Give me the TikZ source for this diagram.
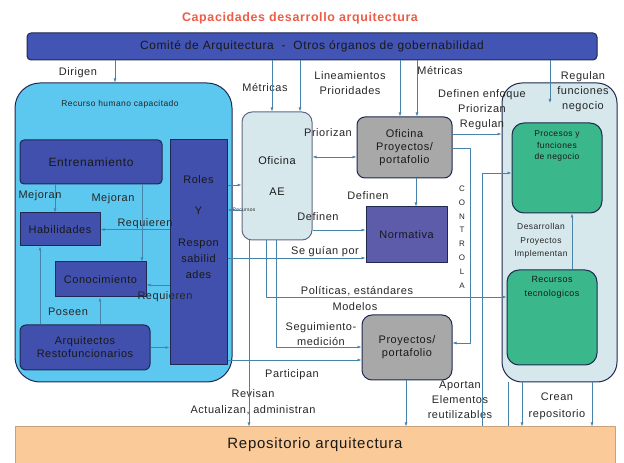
\documentclass[tikz,border=0pt]{standalone}
\usepackage{fontspec}
\setmainfont{Liberation Sans}[LetterSpace=5]
\usepackage{tikz}
\usetikzlibrary{calc,arrows.meta}

\definecolor{barblue}{RGB}{66,84,180}
\definecolor{darkblue}{RGB}{64,80,172}
\definecolor{skyfill}{RGB}{92,200,240}
\definecolor{palefill}{RGB}{214,232,236}
\definecolor{grayfill}{RGB}{168,168,168}
\definecolor{normfill}{RGB}{92,92,170}
\definecolor{greenfill}{RGB}{58,184,140}
\definecolor{repofill}{RGB}{250,202,152}
\definecolor{titlered}{RGB}{236,92,72}
\definecolor{linecol}{RGB}{70,130,170}
\definecolor{edgecol}{RGB}{30,40,80}

\begin{document}
\begin{tikzpicture}[>={Latex[length=4bp,width=3bp]},line join=bevel,
  font=\fontsize{11}{15}\selectfont,
  box/.style={draw=edgecol,line width=1bp,inner sep=0pt,align=center,text=black!90},
  lbl/.style={inner sep=1bp,align=center,text=black!85},
  small/.style={font=\fontsize{8.5}{11.5}\selectfont},
  conn/.style={draw=linecol,line width=0.6bp},
]
\useasboundingbox (0bp,0bp) rectangle (624bp,463bp);
%% containers and boxes
\node (title) at (300bp,445bp) [font=\fontsize{12.5}{14}\selectfont\bfseries,text=titlered] {Capacidades desarrollo arquitectura};
\node (comite) at (312bp,416.5bp) [box,fill=barblue,rounded corners=4bp,minimum width=570bp,minimum height=27bp,font=\fontsize{12}{14}\selectfont] {Comité de Arquitectura \ - \ Otros órganos de gobernabilidad};
\node (repo) at (315bp,18bp) [box,fill=repofill,draw=repofill!80!black,minimum width=600bp,minimum height=36bp,font=\fontsize{15}{17}\selectfont] {Repositorio arquitectura};
\node (rh) at (123.5bp,230.5bp) [box,fill=skyfill,rounded corners=25bp,minimum width=217bp,minimum height=299bp] {};
\node (rhtitle) at (120bp,359bp) [lbl,small] {Recurso humano capacitado};
\node (entren) at (91bp,301bp) [box,fill=darkblue,rounded corners=4bp,minimum width=142bp,minimum height=44bp,font=\fontsize{12}{14}\selectfont] {Entrenamiento};
\node (habil) at (60bp,233.5bp) [box,fill=darkblue,minimum width=80bp,minimum height=33bp] {Habilidades};
\node (conoc) at (100.5bp,183.5bp) [box,fill=darkblue,minimum width=91bp,minimum height=35bp] {Conocimiento};
\node (arqui) at (85bp,115.5bp) [box,fill=darkblue,rounded corners=6bp,minimum width=130bp,minimum height=45bp] {Arquitectos\\[-2bp]Restofuncionarios};
\node (roles) at (198.5bp,210.5bp) [box,fill=darkblue,minimum width=57bp,minimum height=225bp] {\parbox[c][225bp][t]{55bp}{\centering\fontsize{11}{16}\selectfont\vspace*{36bp}Roles\\[15bp]Y\\[16bp]Respon\\sabilid\\ades}};
\node (ae) at (277bp,287bp) [box,fill=palefill,draw=edgecol!70,rounded corners=10bp,minimum width=70bp,minimum height=128bp] {Oficina\\[16bp]AE};
\node (ofpp) at (404.5bp,315.5bp) [box,fill=grayfill,rounded corners=8bp,minimum width=95bp,minimum height=61bp] {Oficina\\[-2bp]Proyectos/\\[-2bp]portafolio};
\node (norm) at (406.5bp,228bp) [box,fill=normfill,minimum width=81bp,minimum height=56bp] {Normativa};
\node (proy) at (407bp,115.5bp) [box,fill=grayfill,rounded corners=10bp,minimum width=90bp,minimum height=65bp] {Proyectos/\\[-2bp]portafolio};
\node (cont) at (559.5bp,230.5bp) [box,fill=palefill,rounded corners=20bp,minimum width=115bp,minimum height=299bp] {};
\node (proc) at (557bp,295bp) [box,fill=greenfill,rounded corners=12bp,minimum width=90bp,minimum height=90bp] {\parbox[c][90bp][t]{88bp}{\centering\fontsize{8.5}{11.5}\selectfont\vspace*{8bp}Procesos y\\funciones\\de negocio}};
\node (recu) at (552bp,145.5bp) [box,fill=greenfill,rounded corners=12bp,minimum width=90bp,minimum height=95bp] {\parbox[c][95bp][t]{88bp}{\centering\fontsize{9}{14}\selectfont\vspace*{6bp}Recursos\\tecnologicos}};
%% labels
\node (tdirigen) at (78bp,390bp) [lbl] {Dirigen};
\node (tmet1) at (265bp,375bp) [lbl] {Métricas};
\node (tlinea) at (350bp,380bp) [lbl] {Lineamientos\\Prioridades};
\node (tmet2) at (440bp,392bp) [lbl] {Métricas};
\node (tenfoque) at (482bp,353bp) [lbl] {Definen enfoque\\Priorizan\\Regulan};
\node (tregulan) at (583bp,371bp) [lbl] {Regulan\\funciones\\negocio};
\node (tpriorizan) at (328bp,330bp) [lbl] {Priorizan};
\node (tmej1) at (40bp,267bp) [lbl] {Mejoran};
\node (tmej2) at (113bp,264bp) [lbl] {Mejoran};
\node (treq1) at (145bp,239bp) [lbl] {Requieren};
\node (treq2) at (165bp,166bp) [lbl] {Requieren};
\node (tposeen) at (68bp,151bp) [lbl] {Poseen};
\node (trecursos) at (244bp,253bp) [lbl,font=\fontsize{5}{6}\selectfont] {Recursos};
\node (tdef1) at (368bp,267bp) [lbl] {Definen};
\node (tdef2) at (318bp,246bp) [lbl] {Definen};
\node (tguian) at (325bp,211bp) [lbl] {Se guían por};
\node (tpol) at (357bp,172bp) [lbl] {Políticas, estándares};
\node (tmod) at (355bp,156bp) [lbl] {Modelos};
\node (tseg) at (321bp,129bp) [lbl] {Seguimiento-\\medición};
\node (tcontrola) at (462bp,226bp) [lbl,font=\fontsize{8}{13.9}\selectfont] {C\\O\\N\\T\\R\\O\\L\\A};
\node (tpart) at (292bp,88bp) [lbl] {Participan};
\node (trev) at (253bp,61bp) [lbl,font=\fontsize{11}{16}\selectfont] {Revisan\\Actualizan, administran};
\node (tapo) at (460bp,63bp) [lbl] {Aportan\\Elementos\\reutilizables};
\node (tcrean) at (557bp,57bp) [lbl,font=\fontsize{11}{17}\selectfont] {Crean\\repositorio};
\node (tdes) at (541bp,222bp) [lbl,font=\fontsize{8.5}{13.5}\selectfont] {Desarrollan\\Proyectos\\Implementan};
%% fixed points of the connectors
\coordinate (xdir) at (115bp,0bp);
\coordinate (xmet) at (272bp,0bp);
\coordinate (xlin) at (300bp,0bp);
\coordinate (xpp1) at (400bp,0bp);
\coordinate (xpp2) at (417bp,0bp);
\coordinate (regend) at (550bp,360bp);
\coordinate (xmej1) at (55bp,0bp);
\coordinate (xmej2) at (142bp,0bp);
\coordinate (xpos) at (100bp,0bp);
\coordinate (xarq) at (40bp,0bp);
\coordinate (yreq) at (0bp,178bp);
\coordinate (yrol) at (0bp,278bp);
\coordinate (yrec) at (0bp,253bp);
\coordinate (ypri) at (0bp,306bp);
\coordinate (xdef) at (416bp,0bp);
\coordinate (ydef) at (0bp,233bp);
\coordinate (ygui) at (0bp,205bp);
\coordinate (pol) at (266bp,166bp);
\coordinate (seg) at (276bp,116bp);
\coordinate (ypar) at (0bp,103bp);
\coordinate (xrev) at (249bp,0bp);
\coordinate (ctltop) at (470bp,315bp);
\coordinate (ctlbot) at (470bp,120bp);
\coordinate (yenf) at (0bp,329bp);
\coordinate (rep) at (482bp,290bp);
\coordinate (xdes) at (572bp,0bp);
\coordinate (xapo) at (406bp,0bp);
\coordinate (xcre1) at (508bp,0bp);
\coordinate (xcre2) at (522bp,0bp);
\coordinate (xcre3) at (592bp,0bp);
%% connectors
\draw [conn,->] (comite.south -| xdir) -- (rh.north -| xdir);
\draw [conn,->] (comite.south -| xmet) -- (ae.north -| xmet);
\draw [conn,->] (comite.south -| xlin) -- (ae.north -| xlin);
\draw [conn,->] (comite.south -| xpp1) -- (ofpp.north -| xpp1);
\draw [conn,->] (comite.south -| xpp2) -- (ofpp.north -| xpp2);
\draw [conn,->] (comite.south -| regend) -- (regend);
\draw [conn,->] (entren.south -| xmej1) -- (habil.north -| xmej1);
\draw [conn,->] (entren.south -| xmej2) -- (conoc.north -| xmej2);
\draw [conn,->] (roles.west |- habil.east) -- (habil.east);
\draw [conn,->] (roles.west |- yreq) -- (conoc.east |- yreq);
\draw [conn,->] (arqui.north -| xpos) -- (conoc.south -| xpos);
\draw [conn,->] (arqui.north -| xarq) -- (habil.south -| xarq);
\draw [conn,->] (arqui.east) -- (roles.west |- arqui.east);
\draw [conn,->] (roles.east |- yrol) -- (ae.west |- yrol);
\draw [conn,->] (ae.west |- yrec) -- (roles.east |- yrec);
\draw [conn,<->] (ofpp.west |- ypri) -- (ae.east |- ypri);
\draw [conn,->] (ofpp.south -| xdef) -- (norm.north -| xdef);
\draw [conn,->] (ae.east |- ydef) -- (norm.west |- ydef);
\draw [conn,->] (roles.east |- ygui) -- (norm.west |- ygui);
\draw [conn,->] (ae.south -| pol) |- (recu.west |- pol);
\draw [conn,->] (ae.south -| seg) |- (proy.west |- seg);
\draw [conn,->] (roles.east |- ypar) -- (proy.west |- ypar);
\draw [conn,->] (ae.south -| xrev) -- (repo.north -| xrev);
\draw [conn,->] (ofpp.east |- ctltop) -- (ctltop) -- (ctlbot) -- (proy.east |- ctlbot);
\draw [conn,->] (ofpp.east |- yenf) -- (cont.west |- yenf);
\draw [conn,->] (repo.north -| rep) |- (proc.west |- rep);
\draw [conn,->] (recu.north -| xdes) -- (proc.south -| xdes);
\draw [conn,->] (proy.south -| xapo) -- (repo.north -| xapo);
\draw [conn] (cont.south -| xcre1) -- (repo.north -| xcre1);
\draw [conn,->] (cont.south -| xcre2) -- (repo.north -| xcre2);
\draw [conn,->] (cont.south -| xcre3) -- (repo.north -| xcre3);
%
\end{tikzpicture}
\end{document}
